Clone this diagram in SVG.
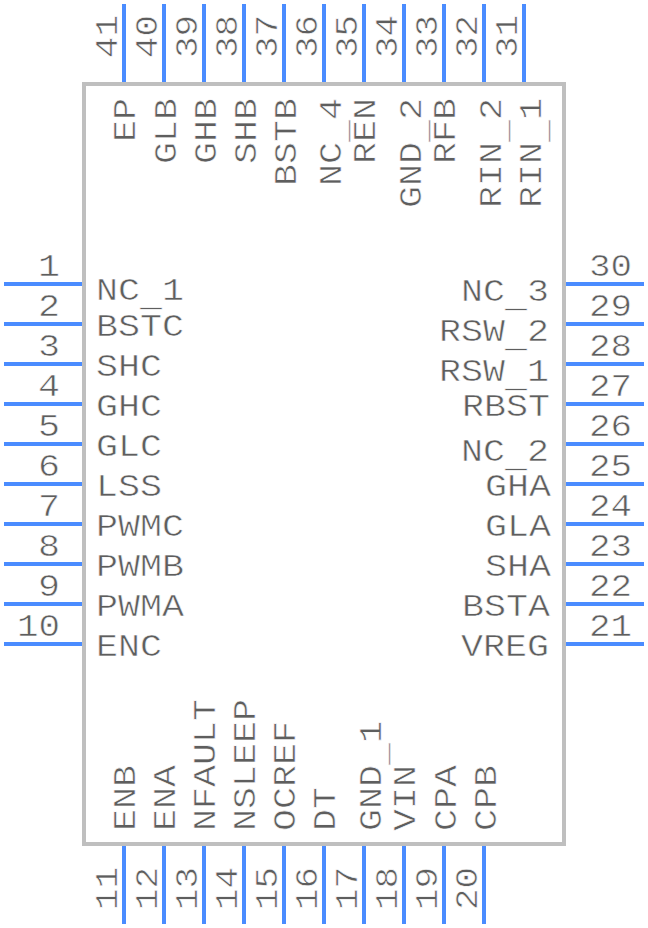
<svg xmlns="http://www.w3.org/2000/svg" width="648" height="928" viewBox="0 0 648 928">
<style>
text{font-family:"Liberation Mono",monospace;font-size:32px;fill:#5e5e5e;stroke:#fff;stroke-width:.55px}
.e{text-anchor:end}
line{stroke:#4a8cff;stroke-width:4}
rect{fill:none;stroke:#bfbfbf;stroke-width:4}
</style>
<rect id="body" x="84" y="84" width="480" height="760"/>
<g id="pin1"><line x1="4" y1="284" x2="82" y2="284"/><text class="e" x="60" y="276" textLength="22" lengthAdjust="spacingAndGlyphs">1</text><text x="96" y="300" textLength="88" lengthAdjust="spacingAndGlyphs">NC<tspan dy="6">_</tspan><tspan dy="-6">1</tspan></text></g>
<g id="pin2"><line x1="4" y1="324" x2="82" y2="324"/><text class="e" x="60" y="316" textLength="22" lengthAdjust="spacingAndGlyphs">2</text><text x="96" y="336" textLength="88" lengthAdjust="spacingAndGlyphs">BSTC</text></g>
<g id="pin3"><line x1="4" y1="364" x2="82" y2="364"/><text class="e" x="60" y="356" textLength="22" lengthAdjust="spacingAndGlyphs">3</text><text x="96" y="376" textLength="66" lengthAdjust="spacingAndGlyphs">SHC</text></g>
<g id="pin4"><line x1="4" y1="404" x2="82" y2="404"/><text class="e" x="60" y="396" textLength="22" lengthAdjust="spacingAndGlyphs">4</text><text x="96" y="416" textLength="66" lengthAdjust="spacingAndGlyphs">GHC</text></g>
<g id="pin5"><line x1="4" y1="444" x2="82" y2="444"/><text class="e" x="60" y="436" textLength="22" lengthAdjust="spacingAndGlyphs">5</text><text x="96" y="456" textLength="66" lengthAdjust="spacingAndGlyphs">GLC</text></g>
<g id="pin6"><line x1="4" y1="484" x2="82" y2="484"/><text class="e" x="60" y="476" textLength="22" lengthAdjust="spacingAndGlyphs">6</text><text x="96" y="496" textLength="66" lengthAdjust="spacingAndGlyphs">LSS</text></g>
<g id="pin7"><line x1="4" y1="524" x2="82" y2="524"/><text class="e" x="60" y="516" textLength="22" lengthAdjust="spacingAndGlyphs">7</text><text x="96" y="536" textLength="88" lengthAdjust="spacingAndGlyphs">PWMC</text></g>
<g id="pin8"><line x1="4" y1="564" x2="82" y2="564"/><text class="e" x="60" y="556" textLength="22" lengthAdjust="spacingAndGlyphs">8</text><text x="96" y="576" textLength="88" lengthAdjust="spacingAndGlyphs">PWMB</text></g>
<g id="pin9"><line x1="4" y1="604" x2="82" y2="604"/><text class="e" x="60" y="596" textLength="22" lengthAdjust="spacingAndGlyphs">9</text><text x="96" y="616" textLength="88" lengthAdjust="spacingAndGlyphs">PWMA</text></g>
<g id="pin10"><line x1="4" y1="644" x2="82" y2="644"/><text class="e" x="60" y="636" textLength="43" lengthAdjust="spacingAndGlyphs">10</text><text x="96" y="656" textLength="66" lengthAdjust="spacingAndGlyphs">ENC</text></g>
<g id="pin11"><line x1="124" y1="846" x2="124" y2="924"/><text transform="translate(117 910) rotate(-90)" textLength="43" lengthAdjust="spacingAndGlyphs">11</text><text transform="translate(135 831) rotate(-90)" textLength="66" lengthAdjust="spacingAndGlyphs">ENB</text></g>
<g id="pin12"><line x1="164" y1="846" x2="164" y2="924"/><text transform="translate(157 910) rotate(-90)" textLength="43" lengthAdjust="spacingAndGlyphs">12</text><text transform="translate(175 831) rotate(-90)" textLength="66" lengthAdjust="spacingAndGlyphs">ENA</text></g>
<g id="pin13"><line x1="204" y1="846" x2="204" y2="924"/><text transform="translate(197 910) rotate(-90)" textLength="43" lengthAdjust="spacingAndGlyphs">13</text><text transform="translate(215 831) rotate(-90)" textLength="132" lengthAdjust="spacingAndGlyphs">NFAULT</text></g>
<g id="pin14"><line x1="244" y1="846" x2="244" y2="924"/><text transform="translate(237 910) rotate(-90)" textLength="43" lengthAdjust="spacingAndGlyphs">14</text><text transform="translate(255 831) rotate(-90)" textLength="132" lengthAdjust="spacingAndGlyphs">NSLEEP</text></g>
<g id="pin15"><line x1="284" y1="846" x2="284" y2="924"/><text transform="translate(277 910) rotate(-90)" textLength="43" lengthAdjust="spacingAndGlyphs">15</text><text transform="translate(295 831) rotate(-90)" textLength="110" lengthAdjust="spacingAndGlyphs">OCREF</text></g>
<g id="pin16"><line x1="324" y1="846" x2="324" y2="924"/><text transform="translate(317 910) rotate(-90)" textLength="43" lengthAdjust="spacingAndGlyphs">16</text><text transform="translate(335 831) rotate(-90)" textLength="44" lengthAdjust="spacingAndGlyphs">DT</text></g>
<g id="pin17"><line x1="364" y1="846" x2="364" y2="924"/><text transform="translate(357 910) rotate(-90)" textLength="43" lengthAdjust="spacingAndGlyphs">17</text><text transform="translate(381 831) rotate(-90)" textLength="110" lengthAdjust="spacingAndGlyphs">GND<tspan dy="6">_</tspan><tspan dy="-6">1</tspan></text></g>
<g id="pin18"><line x1="404" y1="846" x2="404" y2="924"/><text transform="translate(397 910) rotate(-90)" textLength="43" lengthAdjust="spacingAndGlyphs">18</text><text transform="translate(415 831) rotate(-90)" textLength="66" lengthAdjust="spacingAndGlyphs">VIN</text></g>
<g id="pin19"><line x1="444" y1="846" x2="444" y2="924"/><text transform="translate(437 910) rotate(-90)" textLength="43" lengthAdjust="spacingAndGlyphs">19</text><text transform="translate(456 831) rotate(-90)" textLength="66" lengthAdjust="spacingAndGlyphs">CPA</text></g>
<g id="pin20"><line x1="484" y1="846" x2="484" y2="924"/><text transform="translate(477 910) rotate(-90)" textLength="43" lengthAdjust="spacingAndGlyphs">20</text><text transform="translate(496 831) rotate(-90)" textLength="66" lengthAdjust="spacingAndGlyphs">CPB</text></g>
<g id="pin21"><line x1="566" y1="644" x2="644" y2="644"/><text x="589" y="636" textLength="43" lengthAdjust="spacingAndGlyphs">21</text><text x="461" y="656" textLength="88" lengthAdjust="spacingAndGlyphs">VREG</text></g>
<g id="pin22"><line x1="566" y1="604" x2="644" y2="604"/><text x="589" y="596" textLength="43" lengthAdjust="spacingAndGlyphs">22</text><text x="462" y="616" textLength="88" lengthAdjust="spacingAndGlyphs">BSTA</text></g>
<g id="pin23"><line x1="566" y1="564" x2="644" y2="564"/><text x="589" y="556" textLength="43" lengthAdjust="spacingAndGlyphs">23</text><text x="485" y="576" textLength="66" lengthAdjust="spacingAndGlyphs">SHA</text></g>
<g id="pin24"><line x1="566" y1="524" x2="644" y2="524"/><text x="589" y="516" textLength="43" lengthAdjust="spacingAndGlyphs">24</text><text x="485" y="536" textLength="66" lengthAdjust="spacingAndGlyphs">GLA</text></g>
<g id="pin25"><line x1="566" y1="484" x2="644" y2="484"/><text x="589" y="476" textLength="43" lengthAdjust="spacingAndGlyphs">25</text><text x="485" y="496" textLength="66" lengthAdjust="spacingAndGlyphs">GHA</text></g>
<g id="pin26"><line x1="566" y1="444" x2="644" y2="444"/><text x="589" y="436" textLength="43" lengthAdjust="spacingAndGlyphs">26</text><text x="461" y="461" textLength="88" lengthAdjust="spacingAndGlyphs">NC<tspan dy="6">_</tspan><tspan dy="-6">2</tspan></text></g>
<g id="pin27"><line x1="566" y1="404" x2="644" y2="404"/><text x="589" y="396" textLength="43" lengthAdjust="spacingAndGlyphs">27</text><text x="462" y="416" textLength="88" lengthAdjust="spacingAndGlyphs">RBST</text></g>
<g id="pin28"><line x1="566" y1="364" x2="644" y2="364"/><text x="589" y="356" textLength="43" lengthAdjust="spacingAndGlyphs">28</text><text x="439" y="381" textLength="110" lengthAdjust="spacingAndGlyphs">RSW<tspan dy="6">_</tspan><tspan dy="-6">1</tspan></text></g>
<g id="pin29"><line x1="566" y1="324" x2="644" y2="324"/><text x="589" y="316" textLength="43" lengthAdjust="spacingAndGlyphs">29</text><text x="439" y="341" textLength="110" lengthAdjust="spacingAndGlyphs">RSW<tspan dy="6">_</tspan><tspan dy="-6">2</tspan></text></g>
<g id="pin30"><line x1="566" y1="284" x2="644" y2="284"/><text x="589" y="276" textLength="43" lengthAdjust="spacingAndGlyphs">30</text><text x="461" y="301" textLength="88" lengthAdjust="spacingAndGlyphs">NC<tspan dy="6">_</tspan><tspan dy="-6">3</tspan></text></g>
<g id="pin31"><line x1="524" y1="4" x2="524" y2="82"/><text transform="translate(517 58) rotate(-90)" textLength="43" lengthAdjust="spacingAndGlyphs">31</text><text transform="translate(541 208) rotate(-90)" textLength="110" lengthAdjust="spacingAndGlyphs">RIN<tspan dy="6">_</tspan><tspan dy="-6">1</tspan></text></g>
<g id="pin32"><line x1="484" y1="4" x2="484" y2="82"/><text transform="translate(477 58) rotate(-90)" textLength="43" lengthAdjust="spacingAndGlyphs">32</text><text transform="translate(501 208) rotate(-90)" textLength="110" lengthAdjust="spacingAndGlyphs">RIN<tspan dy="6">_</tspan><tspan dy="-6">2</tspan></text></g>
<g id="pin33"><line x1="444" y1="4" x2="444" y2="82"/><text transform="translate(437 58) rotate(-90)" textLength="43" lengthAdjust="spacingAndGlyphs">33</text><text transform="translate(455 164) rotate(-90)" textLength="66" lengthAdjust="spacingAndGlyphs">RFB</text></g>
<g id="pin34"><line x1="404" y1="4" x2="404" y2="82"/><text transform="translate(397 58) rotate(-90)" textLength="43" lengthAdjust="spacingAndGlyphs">34</text><text transform="translate(421 208) rotate(-90)" textLength="110" lengthAdjust="spacingAndGlyphs">GND<tspan dy="6">_</tspan><tspan dy="-6">2</tspan></text></g>
<g id="pin35"><line x1="364" y1="4" x2="364" y2="82"/><text transform="translate(357 58) rotate(-90)" textLength="43" lengthAdjust="spacingAndGlyphs">35</text><text transform="translate(375 164) rotate(-90)" textLength="66" lengthAdjust="spacingAndGlyphs">REN</text></g>
<g id="pin36"><line x1="324" y1="4" x2="324" y2="82"/><text transform="translate(317 58) rotate(-90)" textLength="43" lengthAdjust="spacingAndGlyphs">36</text><text transform="translate(341 186) rotate(-90)" textLength="88" lengthAdjust="spacingAndGlyphs">NC<tspan dy="6">_</tspan><tspan dy="-6">4</tspan></text></g>
<g id="pin37"><line x1="284" y1="4" x2="284" y2="82"/><text transform="translate(277 58) rotate(-90)" textLength="43" lengthAdjust="spacingAndGlyphs">37</text><text transform="translate(296 186) rotate(-90)" textLength="88" lengthAdjust="spacingAndGlyphs">BSTB</text></g>
<g id="pin38"><line x1="244" y1="4" x2="244" y2="82"/><text transform="translate(237 58) rotate(-90)" textLength="43" lengthAdjust="spacingAndGlyphs">38</text><text transform="translate(256 164) rotate(-90)" textLength="66" lengthAdjust="spacingAndGlyphs">SHB</text></g>
<g id="pin39"><line x1="204" y1="4" x2="204" y2="82"/><text transform="translate(197 58) rotate(-90)" textLength="43" lengthAdjust="spacingAndGlyphs">39</text><text transform="translate(216 164) rotate(-90)" textLength="66" lengthAdjust="spacingAndGlyphs">GHB</text></g>
<g id="pin40"><line x1="164" y1="4" x2="164" y2="82"/><text transform="translate(157 58) rotate(-90)" textLength="43" lengthAdjust="spacingAndGlyphs">40</text><text transform="translate(176 164) rotate(-90)" textLength="66" lengthAdjust="spacingAndGlyphs">GLB</text></g>
<g id="pin41"><line x1="124" y1="4" x2="124" y2="82"/><text transform="translate(117 58) rotate(-90)" textLength="43" lengthAdjust="spacingAndGlyphs">41</text><text transform="translate(135 142) rotate(-90)" textLength="44" lengthAdjust="spacingAndGlyphs">EP</text></g>
</svg>
